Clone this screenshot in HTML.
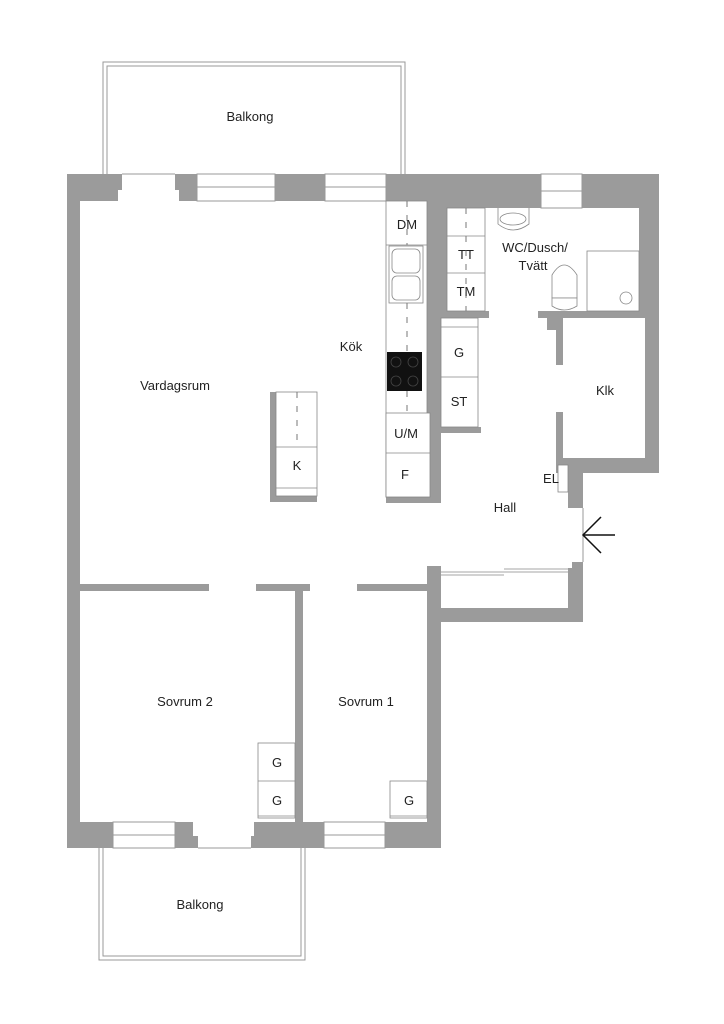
<!DOCTYPE html>
<html><head><meta charset="utf-8"><style>
html,body{margin:0;padding:0;background:#fff;width:724px;height:1024px;overflow:hidden}
svg{display:block}
text{font-family:"Liberation Sans","DejaVu Sans",sans-serif;fill:#222;font-size:13px}
</style></head><body>
<svg width="724" height="1024" viewBox="0 0 724 1024">
<g fill="#9b9b9b" stroke="none">
<!-- top wall -->
<path d="M67,174 H122 V190 H118 V201 H67 Z"/>
<path d="M175,174 H197 V201 H179 V190 H175 Z"/>
<rect x="275" y="174" width="50" height="27"/>
<rect x="386" y="174" width="155" height="34"/>
<rect x="582" y="174" width="77" height="34"/>
<!-- left wall -->
<rect x="67" y="174" width="13" height="674"/>
<!-- right wall of bath/klk -->
<rect x="639" y="174" width="20" height="144"/>
<rect x="645" y="174" width="14" height="299"/>
<!-- wall between kitchen and bath / hall -->
<rect x="427" y="201" width="20" height="116"/>
<rect x="427" y="201" width="14" height="302"/>
<!-- bath bottom wall -->
<rect x="441" y="311" width="48" height="7"/>
<rect x="538" y="311" width="107" height="7"/>
<!-- klk left wall -->
<path d="M556,311 H563 V365 H556 V330 H547 V318 H556 Z"/>
<rect x="556" y="412" width="7" height="61"/>
<!-- klk bottom wall -->
<rect x="556" y="458" width="103" height="15"/>
<rect x="568" y="458" width="15" height="50"/>
<!-- G/ST bottom -->
<rect x="441" y="427" width="40" height="6"/>
<!-- kitchen counter bottom -->
<rect x="386" y="497" width="41" height="6"/>
<!-- island -->
<rect x="270" y="392" width="6" height="110"/>
<rect x="270" y="496" width="47" height="6"/>
<!-- horizontal wall y 584 -->
<rect x="80" y="584" width="129" height="7"/>
<rect x="256" y="584" width="54" height="7"/>
<rect x="357" y="584" width="70" height="7"/>
<!-- between bedrooms -->
<rect x="295" y="584" width="8" height="240"/>
<!-- Sovrum1 right wall -->
<rect x="427" y="566" width="14" height="282"/>
<path d="M427,566 H439 V572 H441 V584 H427 Z"/>
<!-- closet -->
<rect x="441" y="608" width="141" height="14"/>
<path d="M568,568 H572 V562 H583 V622 H568 Z"/>
<!-- bottom wall -->
<rect x="67" y="822" width="46" height="26"/>
<path d="M175,822 H193 V836 H198 V848 H175 Z"/>
<path d="M254,822 H324 V848 H251 V836 H254 Z"/>
<rect x="385" y="822" width="56" height="26"/>
</g>
<g fill="none" stroke="#999" stroke-width="1">
<!-- balconies -->
<path d="M103,174 V62 H405 V174"/>
<path d="M107,174 V66 H401 V174"/>
<path d="M99,848 V960 H305 V848"/>
<path d="M103,848 V956 H301 V848"/>
<!-- windows top -->
<rect x="197" y="174" width="78" height="27"/><line x1="197" y1="187" x2="275" y2="187"/>
<rect x="325" y="174" width="61" height="27"/><line x1="325" y1="187" x2="386" y2="187"/>
<rect x="541" y="174" width="41" height="34"/><line x1="541" y1="191" x2="582" y2="191"/>
<line x1="122" y1="174" x2="175" y2="174"/>
<!-- windows bottom -->
<rect x="113" y="822" width="62" height="26"/><line x1="113" y1="835" x2="175" y2="835"/>
<rect x="324" y="822" width="61" height="26"/><line x1="324" y1="835" x2="385" y2="835"/>
<line x1="198" y1="848" x2="251" y2="848"/>
</g>
<g fill="#fff" stroke="#888" stroke-width="0.8">
<!-- kitchen column -->
<rect x="386" y="201" width="41" height="296"/>
<rect x="386" y="413" width="44" height="84"/>
<line x1="386" y1="453" x2="430" y2="453"/>
<line x1="386" y1="245" x2="427" y2="245"/>
<!-- TT/TM -->
<rect x="447" y="208" width="38" height="103"/>
<line x1="447" y1="236" x2="485" y2="236"/>
<line x1="447" y1="273" x2="485" y2="273"/>
<!-- G ST -->
<rect x="441" y="318" width="37" height="109"/>
<line x1="441" y1="327" x2="478" y2="327"/>
<line x1="441" y1="377" x2="478" y2="377"/>
<!-- island -->
<rect x="276" y="392" width="41" height="104"/>
<line x1="276" y1="447" x2="317" y2="447"/>
<line x1="276" y1="488" x2="317" y2="488"/>
<!-- shower -->
<rect x="587" y="251" width="52" height="60"/>
<circle cx="626" cy="298" r="6"/>
<!-- sink bath -->
<path d="M498,208 V224 Q513,236 529,224 V208"/>
<ellipse cx="513" cy="219" rx="13" ry="6"/>
<!-- toilet -->
<path d="M552,298 V275 Q564,255 577,275 V298 Z"/>
<path d="M552,298 H577 V306 Q564,314 552,306 Z"/>
<!-- sink kitchen -->
<rect x="389" y="246" width="34" height="57"/>
<rect x="392" y="249" width="28" height="24" rx="5"/>
<rect x="392" y="276" width="28" height="24" rx="5"/>
<!-- wardrobes -->
<rect x="258" y="743" width="37" height="75"/>
<line x1="258" y1="781" x2="295" y2="781"/>
<line x1="258" y1="816" x2="295" y2="816"/>
<rect x="390" y="781" width="37" height="37"/>
<line x1="390" y1="816" x2="427" y2="816"/>
<!-- EL -->
<rect x="558" y="465" width="10" height="27"/>
<!-- closet doors -->
<line x1="441" y1="572" x2="504" y2="572"/>
<line x1="441" y1="575" x2="504" y2="575"/>
<line x1="504" y1="569" x2="568" y2="569"/>
<line x1="504" y1="572" x2="568" y2="572"/>
</g>
<rect x="387" y="352" width="35" height="39" fill="#111"/>
<g stroke="#444" fill="none" stroke-width="0.8">
<circle cx="396" cy="362" r="5"/><circle cx="413" cy="362" r="5"/>
<circle cx="396" cy="381" r="5"/><circle cx="413" cy="381" r="5"/>
</g>
<g stroke="#777" stroke-width="1" stroke-dasharray="6,8">
<line x1="407" y1="201" x2="407" y2="245"/>
<line x1="407" y1="303" x2="407" y2="352"/>
<line x1="407" y1="391" x2="407" y2="413"/>
<line x1="466" y1="208" x2="466" y2="311"/>
<line x1="297" y1="392" x2="297" y2="447"/>
</g>
<line x1="583" y1="508" x2="583" y2="562" stroke="#999" stroke-width="1"/>
<g stroke="#111" stroke-width="1.5" fill="none">
<line x1="583" y1="535" x2="615" y2="535"/>
<polyline points="601,517 583,535 601,553"/>
</g>
<g text-anchor="middle">
<text x="250" y="121">Balkong</text>
<text x="200" y="909">Balkong</text>
<text x="175" y="390">Vardagsrum</text>
<text x="351" y="351">Kök</text>
<text x="407" y="229">DM</text>
<text x="466" y="259">TT</text>
<text x="466" y="296">TM</text>
<text x="459" y="357">G</text>
<text x="459" y="406">ST</text>
<text x="406" y="438">U/M</text>
<text x="405" y="479">F</text>
<text x="297" y="470">K</text>
<text x="535" y="252">WC/Dusch/</text>
<text x="533" y="270">Tvätt</text>
<text x="605" y="395">Klk</text>
<text x="551" y="483">EL</text>
<text x="505" y="512">Hall</text>
<text x="185" y="706">Sovrum 2</text>
<text x="366" y="706">Sovrum 1</text>
<text x="277" y="767">G</text>
<text x="277" y="805">G</text>
<text x="409" y="805">G</text>
</g>
</svg>
</body></html>
